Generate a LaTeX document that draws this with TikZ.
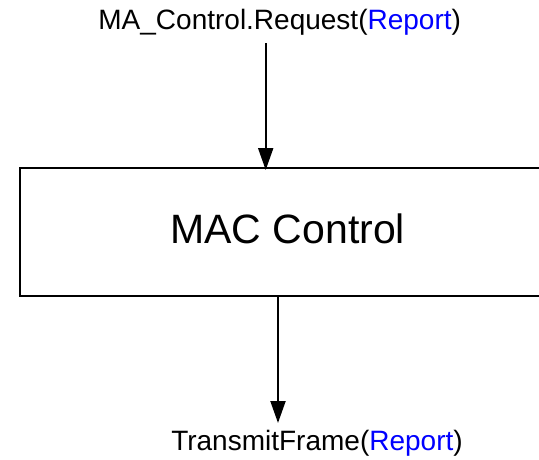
\documentclass[tikz,border=0pt]{standalone}
\usepackage{fontspec}
\setmainfont{Liberation Sans}
\usetikzlibrary{arrows.meta}
\begin{document}
\begin{tikzpicture}[x=1pt,y=-1pt,
  lbl/.style={inner sep=0pt, anchor=base, font=\fontsize{28}{32}\selectfont},
  title/.style={inner sep=0pt, anchor=base, font=\fontsize{41}{46}\selectfont},
  blockbox/.style={draw, line width=2pt, inner sep=0pt, minimum width=540pt, minimum height=128pt},
  arr/.style={line width=2pt, -{Triangle[length=22pt,width=15pt]}}]
  \useasboundingbox (0,0) rectangle (539,459);
  % primitives in and out
  \node[lbl] (req) at (279.7,29.3) {MA\_Control.Request(\textcolor{blue}{Report})};
  \node[lbl] (tx) at (317,450) {TransmitFrame(\textcolor{blue}{Report})};
  % the MAC Control sublayer, running on past the right edge
  \node[blockbox] (mac) at (290.3,232) {};
  \node[title] (mactxt) at (287.7,243.3) {MAC Control};
  % connectors
  \coordinate (inTop) at (265.7,43.3);
  \coordinate (inTip) at (265.7,170);
  \coordinate (outTop) at (278,296);
  \coordinate (outTip) at (278,423);
  \draw[arr] (inTop) -- (inTip);
  \draw[arr] (outTop) -- (outTip);
\end{tikzpicture}
\end{document}
